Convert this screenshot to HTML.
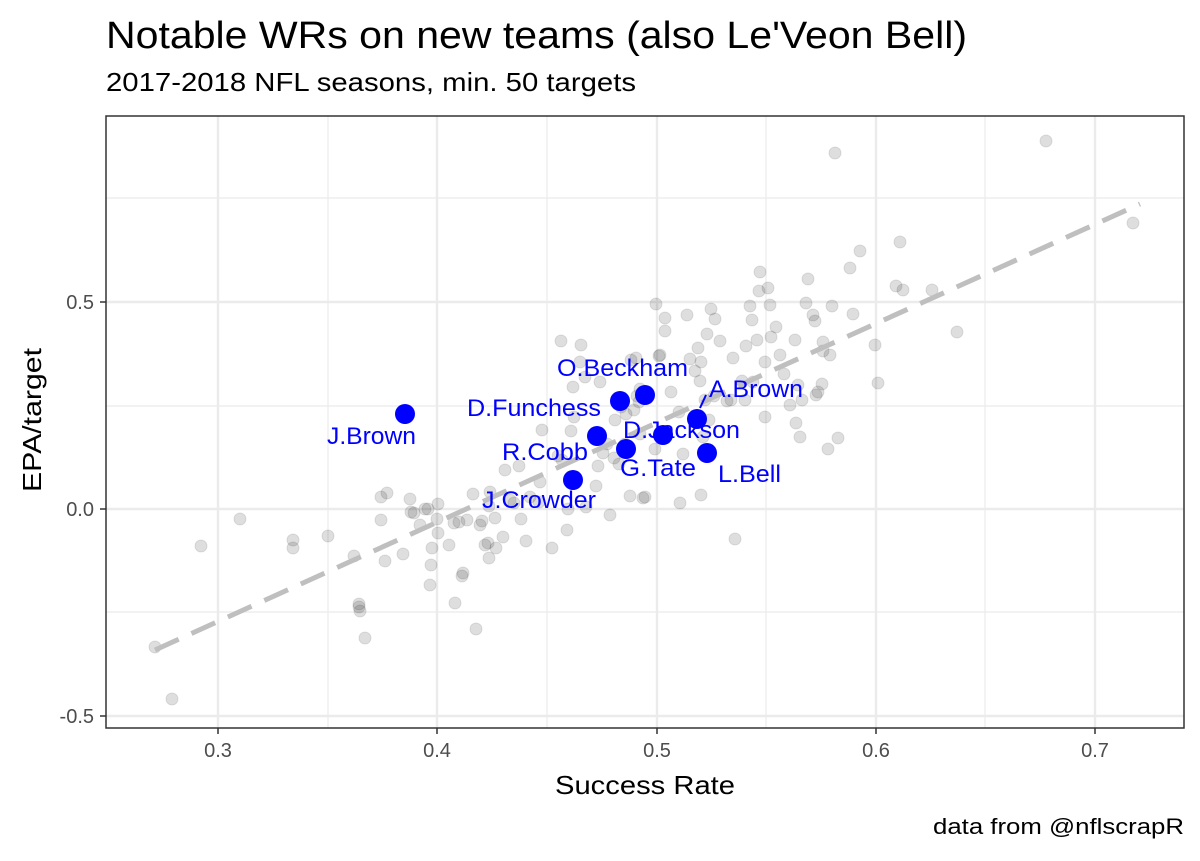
<!DOCTYPE html>
<html><head><meta charset="utf-8"><style>
body{margin:0;background:#fff;}
svg text{font-family:"Liberation Sans",sans-serif;}
</style></head><body>
<svg width="1200" height="856" xmlns="http://www.w3.org/2000/svg">
<rect width="1200" height="856" fill="#fff"/>
<text x="106" y="48" font-size="38" fill="#000" textLength="861" lengthAdjust="spacingAndGlyphs">Notable WRs on new teams (also Le'Veon Bell)</text>
<text x="106" y="91" font-size="26" fill="#000" textLength="530" lengthAdjust="spacingAndGlyphs">2017-2018 NFL seasons, min. 50 targets</text>
<g stroke="#ebebeb" stroke-width="1.2">
<line x1="106" x2="1184" y1="198" y2="198"/><line x1="106" x2="1184" y1="406" y2="406"/><line x1="106" x2="1184" y1="612" y2="612"/>
<line y1="116" y2="728" x1="328" x2="328"/><line y1="116" y2="728" x1="547" x2="547"/><line y1="116" y2="728" x1="766" x2="766"/><line y1="116" y2="728" x1="985" x2="985"/>
</g>
<g stroke="#ebebeb" stroke-width="2.4">
<line x1="106" x2="1184" y1="302" y2="302"/><line x1="106" x2="1184" y1="509" y2="509"/><line x1="106" x2="1184" y1="716" y2="716"/>
<line y1="116" y2="728" x1="218" x2="218"/><line y1="116" y2="728" x1="437" x2="437"/><line y1="116" y2="728" x1="657" x2="657"/><line y1="116" y2="728" x1="876" x2="876"/><line y1="116" y2="728" x1="1095" x2="1095"/>
</g>
<g fill="#000" fill-opacity="0.13" stroke="#000" stroke-opacity="0.1" id="pts"></g>
<line x1="155" y1="650" x2="1140" y2="204" stroke="#bfbfbf" stroke-width="5" stroke-dasharray="26,14"/>
<g fill="#0000ff">
<circle cx="405" cy="414" r="10"/><circle cx="620" cy="401" r="10"/><circle cx="645" cy="395" r="10"/><circle cx="597" cy="436" r="10"/><circle cx="626" cy="449" r="10"/><circle cx="663" cy="435" r="10"/><circle cx="697" cy="419" r="10"/><circle cx="707" cy="453" r="10"/><circle cx="573" cy="480" r="10"/>
</g>
<line x1="700" y1="408" x2="706" y2="395" stroke="#0000ff" stroke-width="2"/>
<g fill="#0000ff" font-size="24">
<text x="327" y="444" textLength="89" lengthAdjust="spacingAndGlyphs">J.Brown</text>
<text x="557" y="376" textLength="131" lengthAdjust="spacingAndGlyphs">O.Beckham</text>
<text x="467" y="416" textLength="134" lengthAdjust="spacingAndGlyphs">D.Funchess</text>
<text x="709" y="397" textLength="94" lengthAdjust="spacingAndGlyphs">A.Brown</text>
<text x="623" y="438" textLength="117" lengthAdjust="spacingAndGlyphs">D.Jackson</text>
<text x="502" y="460" textLength="86" lengthAdjust="spacingAndGlyphs">R.Cobb</text>
<text x="620" y="476" textLength="76" lengthAdjust="spacingAndGlyphs">G.Tate</text>
<text x="718" y="482" textLength="63" lengthAdjust="spacingAndGlyphs">L.Bell</text>
<text x="482" y="508" textLength="114" lengthAdjust="spacingAndGlyphs">J.Crowder</text>
</g>
<rect x="106" y="116" width="1078" height="612" fill="none" stroke="#333" stroke-width="1.5"/>
<g stroke="#333" stroke-width="1.5">
<line x1="100" x2="106" y1="302" y2="302"/><line x1="100" x2="106" y1="509" y2="509"/><line x1="100" x2="106" y1="716" y2="716"/>
<line y1="728" y2="734" x1="218" x2="218"/><line y1="728" y2="734" x1="437" x2="437"/><line y1="728" y2="734" x1="657" x2="657"/><line y1="728" y2="734" x1="876" x2="876"/><line y1="728" y2="734" x1="1095" x2="1095"/>
</g>
<g fill="#4d4d4d" font-size="20">
<text x="94" y="309" text-anchor="end">0.5</text><text x="94" y="516" text-anchor="end">0.0</text><text x="94" y="723" text-anchor="end">-0.5</text>
<text x="218" y="757" text-anchor="middle">0.3</text><text x="437" y="757" text-anchor="middle">0.4</text><text x="657" y="757" text-anchor="middle">0.5</text><text x="876" y="757" text-anchor="middle">0.6</text><text x="1095" y="757" text-anchor="middle">0.7</text>
</g>
<text x="645" y="794" font-size="26" text-anchor="middle" textLength="180" lengthAdjust="spacingAndGlyphs">Success Rate</text>
<text transform="translate(41,420) rotate(-90)" font-size="26" text-anchor="middle" textLength="144" lengthAdjust="spacingAndGlyphs">EPA/target</text>
<text x="1184" y="834" font-size="22" text-anchor="end" textLength="251" lengthAdjust="spacingAndGlyphs">data from @nflscrapR</text>
</svg>
<script>
var p=[[155,647],[172,699],[201,546],[240,519],[293,540],[293,548],[328,536],[354,556],[359,604],[360,611],[359,607],[365,638],[381,497],[387,493],[385,561],[381,520],[403,554],[410,499],[411,512],[414,513],[420,525],[425,509],[428,509],[432,548],[437,519],[438,504],[431,565],[430,585],[438,533],[449,545],[455,603],[454,523],[459,522],[462,576],[467,520],[463,573],[473,494],[476,629],[480,525],[482,521],[485,545],[488,543],[489,558],[495,518],[489,506],[490,492],[496,548],[503,537],[505,470],[510,500],[514,503],[519,466],[521,519],[526,541],[530,497],[539,502],[540,482],[542,430],[552,548],[558,456],[561,341],[562,460],[567,530],[568,509],[571,431],[574,417],[581,345],[580,362],[573,387],[586,507],[585,377],[596,486],[598,466],[600,382],[603,453],[607,444],[610,515],[614,458],[615,420],[619,464],[621,407],[625,444],[626,414],[628,447],[630,496],[631,360],[634,410],[636,358],[637,396],[639,402],[640,389],[640,434],[643,498],[645,497],[655,449],[659,356],[656,304],[660,355],[665,318],[665,331],[671,392],[679,412],[680,503],[683,454],[687,315],[690,359],[695,371],[698,348],[700,381],[701,362],[703,437],[701,495],[705,400],[707,334],[709,420],[711,309],[714,396],[715,319],[720,341],[727,401],[731,400],[733,358],[735,539],[742,381],[745,400],[746,346],[750,306],[752,320],[753,382],[757,340],[759,291],[760,272],[765,362],[765,417],[768,288],[770,305],[771,337],[776,327],[780,355],[784,374],[796,423],[790,405],[795,340],[798,385],[800,437],[802,400],[806,303],[808,279],[813,315],[815,321],[816,395],[818,392],[822,384],[823,342],[823,351],[828,449],[830,355],[832,306],[835,153],[838,438],[850,268],[853,314],[860,251],[875,345],[878,383],[896,286],[900,242],[903,290],[932,290],[957,332],[1046,141],[1133,223]];
var g=document.getElementById('pts'),s='';
p.forEach(function(a){s+='<circle cx="'+a[0]+'" cy="'+a[1]+'" r="6"/>';});
g.innerHTML=s;
</script>
</body></html>
